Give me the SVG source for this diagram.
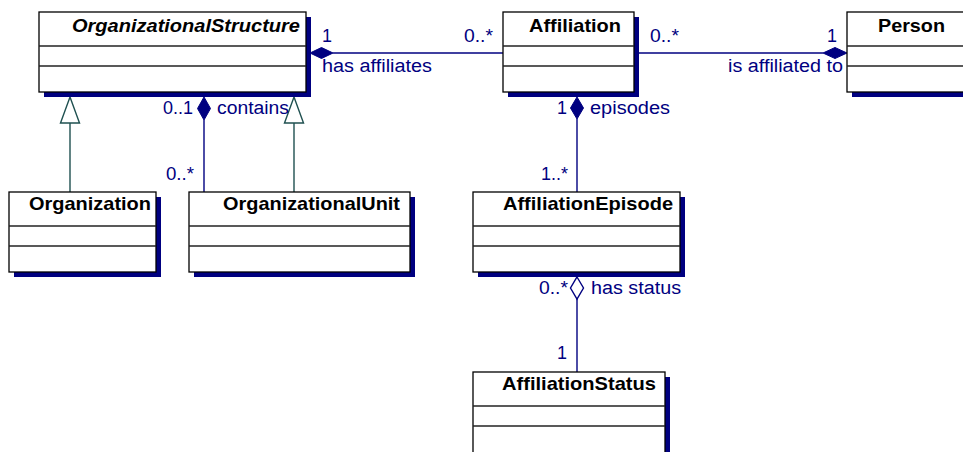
<svg xmlns="http://www.w3.org/2000/svg" width="963" height="452" viewBox="0 0 963 452">
<style>
.shadow{fill:#000080;}
.box{fill:#fff;stroke:#000;stroke-width:1.3;}
.sep{stroke:#222;stroke-width:1.3;}
.name{font-family:"Liberation Sans",Arial,sans-serif;font-weight:bold;font-size:19px;fill:#000;}
.lbl{font-family:"Liberation Sans",Arial,sans-serif;font-size:18px;fill:#000080;}
.assoc{stroke:#000080;stroke-width:1.4;fill:none;}
.gen{stroke:#1f5050;stroke-width:1.4;fill:none;}
.fd{fill:#000080;stroke:#000080;stroke-width:1;}
.hd{fill:#fff;stroke:#000080;stroke-width:1.4;}
.tri{fill:#fff;stroke:#1f5050;stroke-width:1.4;}
</style>
<rect width="963" height="452" fill="#fff"/>
<g id="connectors">
  <line class="assoc" x1="333" y1="53" x2="503" y2="53"/>
  <polygon class="fd" points="310,53 321.5,47.5 333,53 321.5,58.5"/>
  <line class="assoc" x1="639" y1="53" x2="823" y2="53"/>
  <polygon class="fd" points="823,53 835,47.5 847,53 835,58.5"/>
  <line class="assoc" x1="204" y1="120" x2="204" y2="192"/>
  <polygon class="fd" points="204,97 210.5,108.5 204,120 197.5,108.5"/>
  <line class="assoc" x1="577" y1="119" x2="577" y2="192"/>
  <polygon class="fd" points="577,97 583.5,108 577,119 570.5,108"/>
  <line class="assoc" x1="577" y1="299" x2="577" y2="372"/>
  <polygon class="hd" points="577,277 583.5,288 577,299 570.5,288"/>
  <line class="gen" x1="70" y1="123" x2="70" y2="192"/>
  <polygon class="tri" points="70,97 79.5,123 60.5,123"/>
  <line class="gen" x1="294" y1="123" x2="294" y2="192"/>
  <polygon class="tri" points="294,97 303.5,123 284.5,123"/>
  <text class="lbl" x="322" y="42" textLength="10" lengthAdjust="spacingAndGlyphs">1</text>
  <text class="lbl" x="464" y="42" textLength="29" lengthAdjust="spacingAndGlyphs">0..*</text>
  <text class="lbl" x="322" y="72" textLength="110" lengthAdjust="spacingAndGlyphs">has affiliates</text>
  <text class="lbl" x="650" y="42" textLength="29" lengthAdjust="spacingAndGlyphs">0..*</text>
  <text class="lbl" x="827" y="42" textLength="10" lengthAdjust="spacingAndGlyphs">1</text>
  <text class="lbl" x="728" y="72" textLength="115" lengthAdjust="spacingAndGlyphs">is affiliated to</text>
  <text class="lbl" x="163" y="114" textLength="30" lengthAdjust="spacingAndGlyphs">0..1</text>
  <text class="lbl" x="217" y="114" textLength="72" lengthAdjust="spacingAndGlyphs">contains</text>
  <text class="lbl" x="166" y="180" textLength="28" lengthAdjust="spacingAndGlyphs">0..*</text>
  <text class="lbl" x="557" y="114" textLength="10" lengthAdjust="spacingAndGlyphs">1</text>
  <text class="lbl" x="590" y="114" textLength="80" lengthAdjust="spacingAndGlyphs">episodes</text>
  <text class="lbl" x="541" y="180" textLength="27" lengthAdjust="spacingAndGlyphs">1..*</text>
  <text class="lbl" x="539" y="294" textLength="29" lengthAdjust="spacingAndGlyphs">0..*</text>
  <text class="lbl" x="591" y="294" textLength="90" lengthAdjust="spacingAndGlyphs">has status</text>
  <text class="lbl" x="557" y="359" textLength="10" lengthAdjust="spacingAndGlyphs">1</text>
</g>
<g id="OrganizationalStructure">
  <rect class="shadow" x="44" y="17" width="267" height="80"/>
  <rect class="box" x="39" y="12" width="267" height="80"/>
  <line class="sep" x1="39" y1="46" x2="306" y2="46"/>
  <line class="sep" x1="39" y1="66" x2="306" y2="66"/>
  <text class="name" x="72" y="32" font-style="italic" textLength="228" lengthAdjust="spacingAndGlyphs">OrganizationalStructure</text>
</g>
<g id="Affiliation">
  <rect class="shadow" x="508" y="17" width="131" height="80"/>
  <rect class="box" x="503" y="12" width="131" height="80"/>
  <line class="sep" x1="503" y1="46" x2="634" y2="46"/>
  <line class="sep" x1="503" y1="66" x2="634" y2="66"/>
  <text class="name" x="529" y="32" textLength="92" lengthAdjust="spacingAndGlyphs">Affiliation</text>
</g>
<g id="Person">
  <rect class="shadow" x="852" y="17" width="130" height="80"/>
  <rect class="box" x="847" y="12" width="130" height="80"/>
  <line class="sep" x1="847" y1="46" x2="977" y2="46"/>
  <line class="sep" x1="847" y1="66" x2="977" y2="66"/>
  <text class="name" x="878" y="32" textLength="67" lengthAdjust="spacingAndGlyphs">Person</text>
</g>
<g id="Organization">
  <rect class="shadow" x="14" y="197" width="147" height="80"/>
  <rect class="box" x="9" y="192" width="147" height="80"/>
  <line class="sep" x1="9" y1="226" x2="156" y2="226"/>
  <line class="sep" x1="9" y1="246" x2="156" y2="246"/>
  <text class="name" x="29" y="210" textLength="122" lengthAdjust="spacingAndGlyphs">Organization</text>
</g>
<g id="OrganizationalUnit">
  <rect class="shadow" x="194" y="197" width="221" height="80"/>
  <rect class="box" x="189" y="192" width="221" height="80"/>
  <line class="sep" x1="189" y1="226" x2="410" y2="226"/>
  <line class="sep" x1="189" y1="246" x2="410" y2="246"/>
  <text class="name" x="223" y="210" textLength="177" lengthAdjust="spacingAndGlyphs">OrganizationalUnit</text>
</g>
<g id="AffiliationEpisode">
  <rect class="shadow" x="478" y="197" width="207" height="80"/>
  <rect class="box" x="473" y="192" width="207" height="80"/>
  <line class="sep" x1="473" y1="226" x2="680" y2="226"/>
  <line class="sep" x1="473" y1="246" x2="680" y2="246"/>
  <text class="name" x="503" y="210" textLength="170" lengthAdjust="spacingAndGlyphs">AffiliationEpisode</text>
</g>
<g id="AffiliationStatus">
  <rect class="shadow" x="478" y="377" width="192" height="90"/>
  <rect class="box" x="473" y="372" width="192" height="90"/>
  <line class="sep" x1="473" y1="406" x2="665" y2="406"/>
  <line class="sep" x1="473" y1="426" x2="665" y2="426"/>
  <text class="name" x="502" y="390" textLength="154" lengthAdjust="spacingAndGlyphs">AffiliationStatus</text>
</g>
</svg>
